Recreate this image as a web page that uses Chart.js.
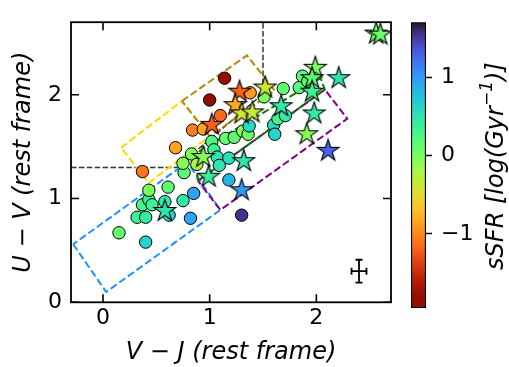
<!DOCTYPE html>
<html>
<head>
<meta charset="utf-8">
<script src="https://cdn.jsdelivr.net/npm/chart.js@4.4.0/dist/chart.umd.min.js"></script>
<style>
  html, body { margin: 0; padding: 0; background: #fff; overflow: hidden; }
  #wrap { position: relative; width: 509px; height: 367px; }
  #wrap canvas { position: absolute; left: 0; top: 0; }
</style>
</head>
<body>
<div id="wrap">
  <canvas id="uvj" width="509" height="367"></canvas>
  <canvas id="cbar" width="509" height="367"></canvas>
</div>
<script>
// galaxies drawn as circles: V-J, U-V, sSFR
const CIRCLE_VJ = [0.15, 0.40, 0.32, 0.40, 0.37, 0.43, 0.46, 0.43, 0.61, 0.58, 0.62, 0.75, 0.85, 0.82, 0.76, 0.75,
                   0.83, 0.88, 0.37, 0.68, 0.84, 0.94, 1.10, 1.00, 1.14, 1.38, 1.02, 1.04, 1.07, 1.09, 1.18, 1.18,
                   1.30, 1.15, 1.23, 1.31, 1.36, 1.37, 1.51, 1.69, 1.60, 1.61, 1.64, 1.71, 1.84, 1.87, 1.92];
const CIRCLE_UV = [0.67, 0.58, 0.82, 0.82, 0.94, 0.99, 0.94, 1.08, 1.11, 0.97, 0.84, 0.98, 1.05, 0.81, 1.25, 1.34,
                   1.43, 1.33, 1.26, 1.49, 1.66, 1.67, 1.80, 1.95, 2.16, 2.02, 1.55, 1.47, 1.40, 1.32, 1.39, 1.18,
                   0.84, 1.58, 1.59, 1.65, 1.62, 1.70, 1.98, 2.06, 1.71, 1.62, 1.77, 1.80, 2.07, 2.18, 2.13];
const CIRCLE_SSFR = [0.10, 0.65, 0.35, 0.45, 0.30, 0.40, 0.35, 0.00, 0.15, 0.45, 0.65, 0.45, 0.95, 0.95, 0.20, -0.05,
                     0.00, -0.20, -1.10, -0.85, -1.05, -0.85, -1.15, -1.85, -1.80, -0.90, 0.25, 0.35, 0.50, 0.50, 0.55, 0.85,
                     1.55, 0.10, 0.15, -0.05, 0.05, 0.60, 0.00, 0.15, 0.60, 0.65, 0.30, 0.45, 0.20, 0.20, 0.15];

// galaxies drawn as stars
const STAR_VJ = [2.56, 2.60, 1.99, 1.96, 2.21, 1.96, 1.98, 1.91, 2.11, 1.67, 1.52, 1.28, 1.24, 1.30, 1.40, 1.02,
                 0.94, 0.99, 1.32, 1.30, 0.58];
const STAR_UV = [2.60, 2.59, 2.27, 2.17, 2.17, 2.04, 1.83, 1.63, 1.47, 1.90, 2.08, 2.04, 1.91, 1.83, 1.84, 1.72,
                 1.41, 1.22, 1.37, 1.09, 0.89];
const STAR_SSFR = [0.10, 0.10, 0.00, 0.15, 0.50, 0.35, 0.45, -0.05, 1.30, 0.45, -0.40, -1.20, -0.80, -0.40, -0.35, -1.20,
                   -0.05, 0.40, 0.50, 1.00, 0.50];

// selection boxes (closed polygons)
const BLUE_VJ = [-0.28, 0.03, 1.10, 0.79, -0.28];
const BLUE_UV = [0.56, 0.10, 0.89, 1.35, 0.56];
const YELLOW_VJ = [0.17, 0.74, 1.00, 0.43, 0.17];
const YELLOW_UV = [1.49, 1.94, 1.60, 1.15, 1.49];
const GOLD_VJ = [0.74, 1.35, 1.61, 1.00, 0.74];
const GOLD_UV = [1.94, 2.38, 2.04, 1.60, 1.94];
const PURPLE_VJ = [0.89, 2.08, 2.29, 1.10, 0.89];
const PURPLE_UV = [1.17, 2.05, 1.77, 0.89, 1.17];
const GREEN_VJ = [0.89, 0.86, 2.04, 2.08, 0.89];
const GREEN_UV = [1.17, 1.43, 2.16, 2.05, 1.17];
// quiescent wedge
const WEDGE_VJ = [-0.3, 0.693, 1.5, 1.5];
const WEDGE_UV = [1.3, 1.3, 2.01, 2.7];

// typical error bar
const ERR_VJ = 2.40, ERR_UV = 0.30, ERR_DVJ = 0.07, ERR_DUV = 0.11;

const X_TICKS = [0, 1, 2];
const Y_TICKS = [0, 1, 2];
const CB_TICKS = [-1, 0, 1];
const SSFR_MIN = -1.95, SSFR_MAX = 1.71;

const FONT = "'DejaVu Sans', sans-serif";

function turbo(t) {
    t = Math.min(1, Math.max(0, t));
    var r = 0.13572138 + t * (4.61539260 + t * (-42.66032258 + t * (132.13108234 + t * (-152.94239396 + t * 59.28637943))));
    var g = 0.09140261 + t * (2.19418839 + t * (4.84296658 + t * (-14.18503333 + t * (4.27729857 + t * 2.82956604))));
    var b = 0.10667330 + t * (12.64194608 + t * (-60.58204836 + t * (110.36276771 + t * (-89.90310912 + t * 27.34824973))));
    var c = v => Math.round(255 * Math.min(1, Math.max(0, v)));
    return "rgb(" + c(r) + "," + c(g) + "," + c(b) + ")";
}

// turbo reversed: high sSFR = dark blue, low = dark red
function ssfrColor(v) {
    return turbo(1 - (v - SSFR_MIN) / (SSFR_MAX - SSFR_MIN));
}

function starImage(color) {
    var R = 11.5, r = R * 0.381966, size = 28;
    var cv = document.createElement('canvas');
    cv.width = size; cv.height = size;
    var c = cv.getContext('2d');
    c.beginPath();
    for (var i = 0; i < 10; i++) {
        var rad = (i % 2 === 0) ? R : r;
        var a = -Math.PI / 2 + i * Math.PI / 5;
        var px = size / 2 + rad * Math.cos(a), py = size / 2 + 1 + rad * Math.sin(a);
        if (i === 0) c.moveTo(px, py); else c.lineTo(px, py);
    }
    c.closePath();
    c.fillStyle = color;
    c.fill();
    c.lineWidth = 1.1;
    c.strokeStyle = '#000';
    c.stroke();
    return cv;
}

function toPoints(xs, ys) {
    return xs.map((x, i) => ({x: x, y: ys[i]}));
}

function minusSign(v) {
    return String(v).replace('-', '\u2212');
}

function boxDataset(xs, ys, color, order) {
    return {
        data: toPoints(xs, ys),
        showLine: true,
        borderColor: color,
        borderWidth: 2,
        borderDash: [7.4, 3.2],
        pointRadius: 0,
        fill: false,
        tension: 0,
        order: order
    };
}

// inward ticks on all four sides plus the frame
const frameTicks = {
    id: 'frameTicks',
    afterDraw(chart) {
        var ctx = chart.ctx, a = chart.chartArea;
        var xs = chart.scales.x, ys = chart.scales.y;
        ctx.save();
        ctx.strokeStyle = '#000';
        ctx.lineWidth = 1.6;
        X_TICKS.forEach(v => {
            var px = xs.getPixelForValue(v);
            ctx.beginPath();
            ctx.moveTo(px, a.bottom); ctx.lineTo(px, a.bottom - 8);
            ctx.moveTo(px, a.top); ctx.lineTo(px, a.top + 8);
            ctx.stroke();
        });
        Y_TICKS.forEach(v => {
            var py = ys.getPixelForValue(v);
            ctx.beginPath();
            ctx.moveTo(a.left, py); ctx.lineTo(a.left + 8, py);
            ctx.moveTo(a.right, py); ctx.lineTo(a.right - 8, py);
            ctx.stroke();
        });
        ctx.lineWidth = 1.8;
        ctx.strokeRect(a.left, a.top, a.right - a.left, a.bottom - a.top);
        ctx.restore();
    }
};

const errorBar = {
    id: 'errorBar',
    afterDatasetsDraw(chart) {
        var ctx = chart.ctx, xs = chart.scales.x, ys = chart.scales.y;
        var cx = xs.getPixelForValue(ERR_VJ), cy = ys.getPixelForValue(ERR_UV);
        var x0 = xs.getPixelForValue(ERR_VJ - ERR_DVJ), x1 = xs.getPixelForValue(ERR_VJ + ERR_DVJ);
        var y0 = ys.getPixelForValue(ERR_UV - ERR_DUV), y1 = ys.getPixelForValue(ERR_UV + ERR_DUV);
        ctx.save();
        ctx.strokeStyle = '#000';
        ctx.lineWidth = 1.8;
        ctx.beginPath();
        ctx.moveTo(x0, cy); ctx.lineTo(x1, cy);
        ctx.moveTo(cx, y0); ctx.lineTo(cx, y1);
        ctx.moveTo(x0, cy - 3.5); ctx.lineTo(x0, cy + 3.5);
        ctx.moveTo(x1, cy - 3.5); ctx.lineTo(x1, cy + 3.5);
        ctx.moveTo(cx - 3.5, y0); ctx.lineTo(cx + 3.5, y0);
        ctx.moveTo(cx - 3.5, y1); ctx.lineTo(cx + 3.5, y1);
        ctx.stroke();
        ctx.restore();
    }
};

new Chart(document.getElementById('uvj'), {
    type: 'scatter',
    data: {
        datasets: [
            {
                data: toPoints(STAR_VJ, STAR_UV),
                pointStyle: STAR_SSFR.map(v => starImage(ssfrColor(v))),
                pointRadius: 10,
                order: 0
            },
            {
                data: toPoints(CIRCLE_VJ, CIRCLE_UV),
                pointStyle: 'circle',
                pointRadius: 6.2,
                pointBackgroundColor: CIRCLE_SSFR.map(ssfrColor),
                pointBorderColor: '#000',
                pointBorderWidth: 1,
                order: 1
            },
            boxDataset(GREEN_VJ, GREEN_UV, '#008000', 2),
            boxDataset(PURPLE_VJ, PURPLE_UV, '#800080', 3),
            boxDataset(GOLD_VJ, GOLD_UV, '#b8860b', 4),
            boxDataset(YELLOW_VJ, YELLOW_UV, '#ffd700', 5),
            boxDataset(BLUE_VJ, BLUE_UV, '#1e90ff', 6),
            {
                data: toPoints(WEDGE_VJ, WEDGE_UV),
                showLine: true,
                borderColor: '#333',
                borderWidth: 1.5,
                borderDash: [5.5, 2.4],
                pointRadius: 0,
                order: 7
            }
        ]
    },
    options: {
        responsive: false,
        animation: false,
        layout: { padding: { left: 0, top: 14, right: 118, bottom: 0 } },
        plugins: { legend: { display: false }, tooltip: { enabled: false } },
        scales: {
            x: {
                type: 'linear', min: -0.3, max: 2.7,
                afterBuildTicks: s => { s.ticks = X_TICKS.map(v => ({value: v})); },
                afterFit: s => { s.height = 64.7; },
                grid: { display: false, drawTicks: false },
                border: { display: false },
                ticks: { color: '#000', padding: 3, font: { family: FONT, size: 22 }, callback: minusSign },
                title: {
                    display: true, text: 'V \u2212 J (rest frame)', color: '#000',
                    font: { family: FONT, size: 24, style: 'italic' },
                    padding: { top: 0, bottom: 0 }
                }
            },
            y: {
                type: 'linear', min: 0, max: 2.7,
                afterBuildTicks: s => { s.ticks = Y_TICKS.map(v => ({value: v})); },
                afterFit: s => { s.width = 71; },
                grid: { display: false, drawTicks: false },
                border: { display: false },
                ticks: { color: '#000', padding: 9, font: { family: FONT, size: 22 }, callback: minusSign },
                title: {
                    display: true, text: 'U \u2212 V (rest frame)', color: '#000',
                    font: { family: FONT, size: 24, style: 'italic' },
                    padding: { top: 9, bottom: 0 }
                }
            }
        }
    },
    plugins: [frameTicks, errorBar]
});

// colour bar title with a raised exponent
const cbTitle = {
    id: 'cbTitle',
    afterDraw(chart) {
        var ctx = chart.ctx, a = chart.chartArea;
        var main = "italic 24px " + FONT, sup = "italic 17px " + FONT;
        var parts = [['sSFR [log(Gyr', main, 0], ['\u22121', sup, -9], [')]', main, 0]];
        ctx.save();
        var total = 0;
        parts.forEach(p => { ctx.font = p[1]; p.push(ctx.measureText(p[0]).width); total += p[3]; });
        ctx.translate(chart.width - 12, (a.top + a.bottom) / 2 + 1);
        ctx.rotate(-Math.PI / 2);
        ctx.fillStyle = '#000';
        ctx.textAlign = 'left';
        ctx.textBaseline = 'middle';
        var x = -total / 2;
        parts.forEach(p => {
            ctx.font = p[1];
            ctx.fillText(p[0], x, p[2]);
            x += p[3];
        });
        ctx.restore();
    }
};

function cbGradient(c) {
    var chart = c.chart, ys = chart.scales.y;
    if (!chart.chartArea || !ys) return '#888';
    var y0 = ys.getPixelForValue(SSFR_MIN), y1 = ys.getPixelForValue(SSFR_MAX);
    var g = chart.ctx.createLinearGradient(0, y0, 0, y1);
    for (var i = 0; i <= 40; i++) {
        g.addColorStop(i / 40, ssfrColor(SSFR_MIN + (SSFR_MAX - SSFR_MIN) * i / 40));
    }
    return g;
}

new Chart(document.getElementById('cbar'), {
    type: 'bar',
    data: {
        labels: ['sSFR'],
        datasets: [{
            data: [[SSFR_MIN, SSFR_MAX]],
            backgroundColor: cbGradient,
            borderColor: '#000',
            borderWidth: 1.5,
            borderSkipped: false,
            barPercentage: 1,
            categoryPercentage: 1
        }]
    },
    options: {
        responsive: false,
        animation: false,
        layout: { padding: { left: 411, top: 7, right: 0, bottom: 59 } },
        plugins: { legend: { display: false }, tooltip: { enabled: false } },
        scales: {
            x: { display: false },
            y: {
                position: 'right', min: SSFR_MIN, max: SSFR_MAX,
                afterBuildTicks: s => { s.ticks = CB_TICKS.map(v => ({value: v})); },
                afterFit: s => { s.width = 83; },
                grid: { drawOnChartArea: false, drawTicks: true, tickLength: 6, tickWidth: 1.5, tickColor: '#000' },
                border: { display: false },
                ticks: { color: '#000', padding: 9, font: { family: FONT, size: 22 }, callback: minusSign }
            }
        }
    },
    plugins: [cbTitle]
});
</script>
</body>
</html>
